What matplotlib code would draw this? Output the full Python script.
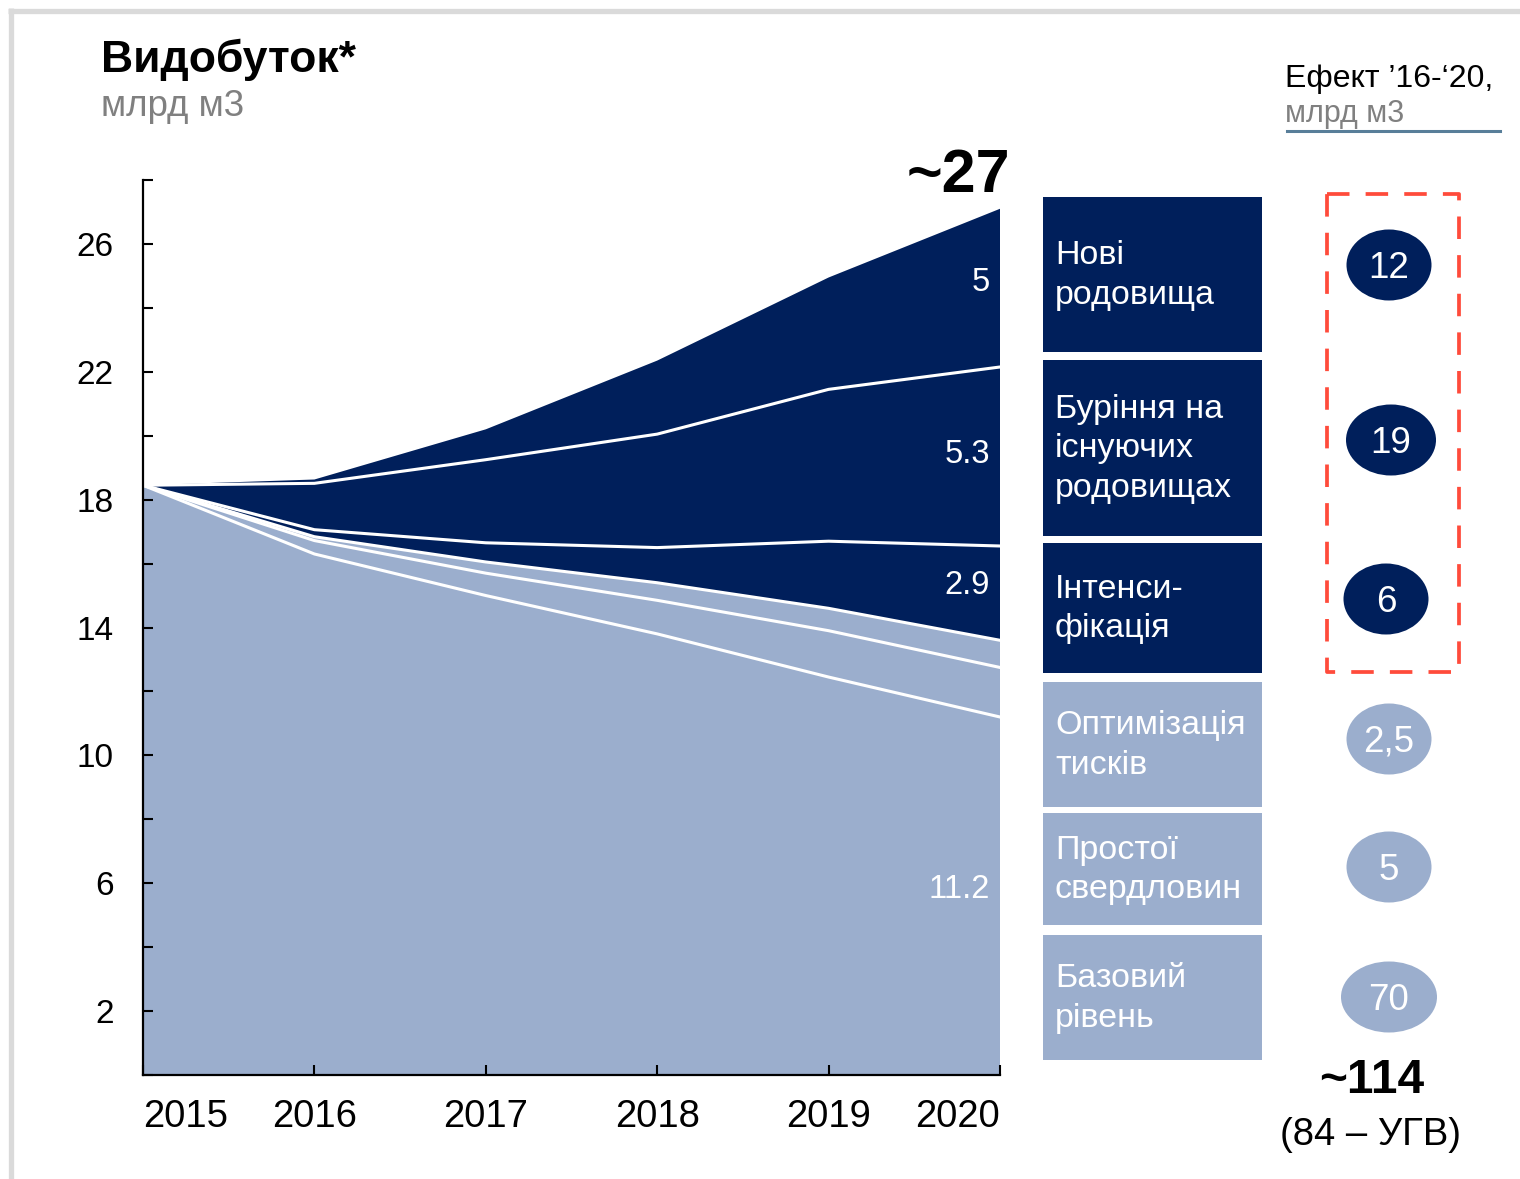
import numpy as np
import matplotlib.pyplot as plt
from matplotlib.patches import Rectangle, Ellipse

plt.rcParams['font.family'] = ['Liberation Sans', 'DejaVu Sans']

# --- data (bln m3) ---
years = [2015, 2016, 2017, 2018, 2019, 2020]
base = [18.45, 16.3, 15.0, 13.8, 12.45, 11.2]      # Базовий рівень
prostoi = [0, 0.42, 0.7, 1.05, 1.45, 1.55]         # Простої свердловин
optym = [0, 0.12, 0.35, 0.55, 0.7, 0.85]           # Оптимізація тисків
intens = [0, 0.22, 0.6, 1.1, 2.1, 2.95]            # Інтенсифікація
burinnia = [0, 1.45, 2.6, 3.55, 4.75, 5.6]         # Буріння на існуючих
novi = [0, 0.12, 0.95, 2.3, 3.5, 4.95]             # Нові родовища

end_labels = ['11.2', '2.9', '5.3', '5']
end_label_y = [5.8, 15.3, 19.4, 24.8]
total_label = '~27'

effect_names = ['Нові\nродовища', 'Буріння на\nіснуючих\nродовищах', 'Інтенси-\nфікація',
                'Оптимізація\nтисків', 'Простої\nсвердловин', 'Базовий\nрівень']
effect_values = ['12', '19', '6', '2,5', '5', '70']
effect_total = '~114'
effect_note = '(84 – УГВ)'

dark = '#001F5B'
light = '#9BAECD'
layer_colors = [light, light, light, dark, dark, dark]
effect_colors = [dark, dark, dark, light, light, light]

W, H = 1520, 1179
fig = plt.figure(figsize=(W / 100, H / 100), dpi=100)

# --- main stacked area chart ---
ax = fig.add_axes([143 / W, 104 / H, 857 / W, 895 / H])
layers = [base, prostoi, optym, intens, burinnia, novi]
ax.stackplot(years, *layers, colors=layer_colors, lw=0)
cum = np.cumsum(np.array(layers), axis=0)
for row in cum[:-1]:
    ax.plot(years, row, color='white', lw=2.2, solid_joinstyle='round')

for lab, yy in zip(end_labels, end_label_y):
    ax.text(2019.94, yy, lab, color='white', fontsize=23.5, ha='right', va='center')

ax.set_xlim(2015, 2020)
ax.set_ylim(0, 28)
for s in ['top', 'right']:
    ax.spines[s].set_visible(False)
for s in ['left', 'bottom']:
    ax.spines[s].set_linewidth(1.6)
ax.set_yticks(range(2, 27, 4))
ax.set_yticks(range(0, 29, 4), minor=True)
ax.set_xticks(years)
ax.set_xticklabels([str(y) for y in years], fontsize=27.5)
xl = ax.get_xticklabels()
xl[0].set_ha('left')
xl[-1].set_ha('right')
ax.tick_params(axis='y', which='both', direction='in', length=7, width=1.5, labelsize=24, pad=21)
ax.tick_params(axis='x', direction='in', length=7, width=1.5, pad=17)

# --- overlay in pixel coordinates for the annotations ---
ov = fig.add_axes([0, 0, 1, 1])
ov.set_xlim(0, W)
ov.set_ylim(H, 0)
ov.axis('off')
ov.patch.set_visible(False)

ov.plot([10.5, 10.5], [8, H], color='#DADADA', lw=3.8, solid_capstyle='butt')
ov.plot([8, W], [10.5, 10.5], color='#DADADA', lw=3.8, solid_capstyle='butt')

ov.text(101, 72, 'Видобуток*', fontsize=32, fontweight='bold', va='baseline')
ov.text(101, 116, 'млрд м3', fontsize=26.5, color='#808080', va='baseline')
ov.text(1010, 192, total_label, fontsize=44, fontweight='bold', ha='right', va='baseline')

ov.text(1285, 87, 'Ефект ’16-‘20,', fontsize=23, va='baseline')
ov.text(1285, 122, 'млрд м3', fontsize=22, color='#808080', va='baseline')
ov.plot([1287, 1500], [131, 131], color='#587E99', lw=2.2)

box_spans = [(197, 352), (360, 536), (543, 673), (682, 807), (813, 925), (935, 1060)]
ell_x = [1389, 1391, 1386, 1389, 1389, 1389]
ell_y = [265, 440, 599, 739, 867, 997]
ell_w = [85, 90, 85, 85, 85, 96]
for i, name in enumerate(effect_names):
    y0, y1 = box_spans[i]
    ov.add_patch(Rectangle((1043, y0), 219, y1 - y0, color=effect_colors[i], lw=0))
    ov.text(1055, (y0 + y1) / 2 + 1, name, color='white', fontsize=24.5, va='center',
            linespacing=1.37)
    ov.add_patch(Ellipse((ell_x[i], ell_y[i]), ell_w[i], 71, color=effect_colors[i], lw=0))
    ov.text(ell_x[i], ell_y[i] + 13, effect_values[i], color='white', fontsize=26.5,
            ha='center', va='baseline')

ov.add_patch(Rectangle((1327, 194), 132, 478, fill=False, ec='#FF4B3B', lw=2.7,
                       linestyle=(0, (6, 4.3)), joinstyle='round'))

ov.text(1372, 1093, effect_total, fontsize=34.5, fontweight='bold', ha='center', va='baseline')
ov.text(1371, 1145, effect_note, fontsize=27.5, ha='center', va='baseline')

fig.savefig('out.png', dpi=100)
